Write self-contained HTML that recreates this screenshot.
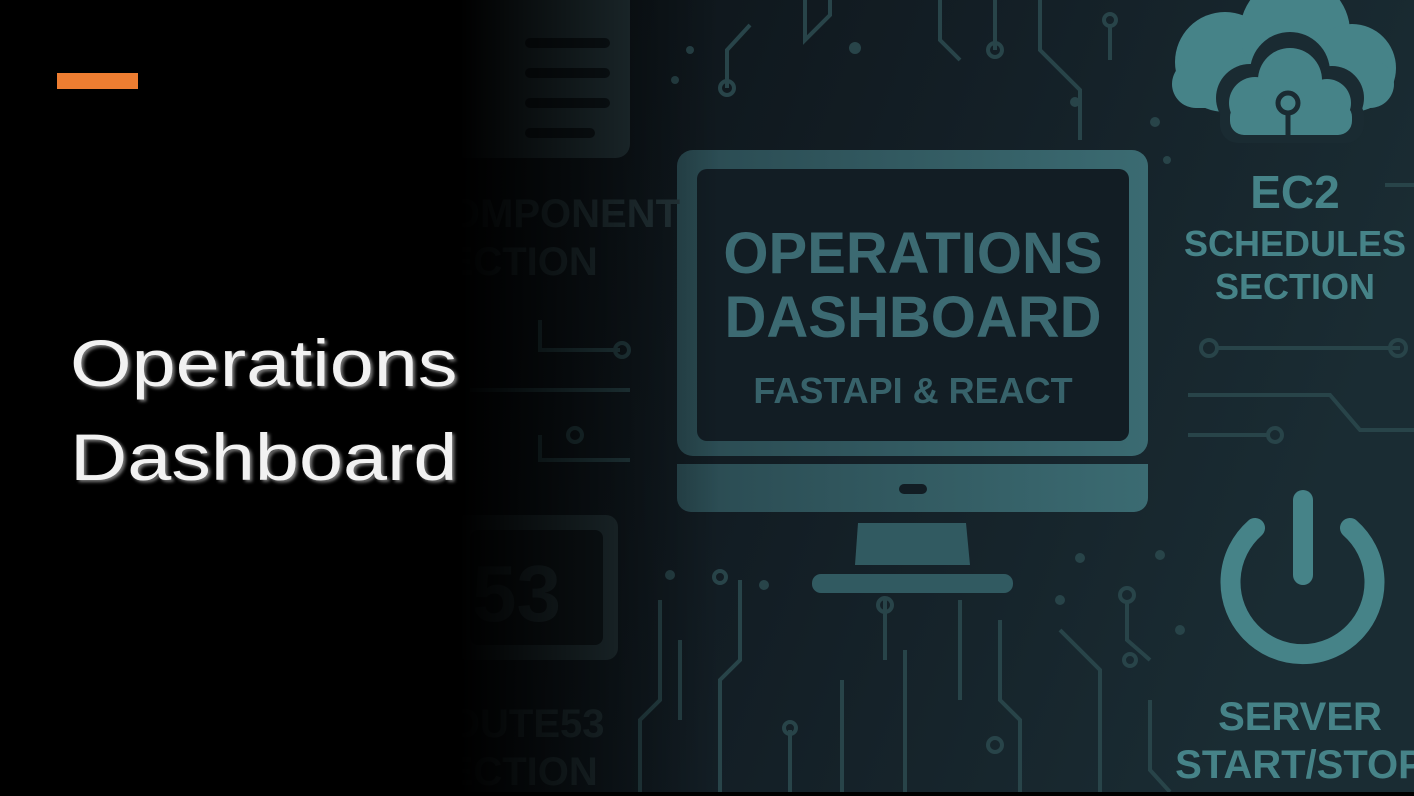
<!DOCTYPE html>
<html><head><style>
html,body{margin:0;padding:0}
body{width:1414px;height:792px;position:relative;overflow:hidden;background:#000;font-family:"Liberation Sans",sans-serif}
.t{position:absolute;font-weight:bold;text-align:center;white-space:nowrap}
</style></head><body>
<svg width="1414" height="792" style="position:absolute;left:0;top:0">
<defs>
<linearGradient id="bg" x1="0" y1="0" x2="1" y2="0.3">
<stop offset="0" stop-color="#0c1216"/><stop offset="0.5" stop-color="#131e25"/><stop offset="1" stop-color="#1a2c33"/>
</linearGradient>
<linearGradient id="mon" x1="0" y1="0" x2="1" y2="0">
<stop offset="0" stop-color="#2a4a51"/><stop offset="1" stop-color="#3b6b72"/>
</linearGradient>
</defs>
<rect x="460" y="0" width="954" height="792" fill="url(#bg)"/>
<g fill="none" stroke="#284449" stroke-width="4">
<path d="M805 0 V40 L830 15 V0"/><path d="M995 0 V50"/><circle cx="995" cy="50" r="7"/>
<path d="M1040 0 V50 L1080 90 V140"/><circle cx="1110" cy="20" r="6"/><path d="M1110 26 V60"/>
<path d="M940 0 V40 L960 60"/><path d="M727 88 V50 L750 25"/><circle cx="727" cy="88" r="7"/>
<path d="M1385 185 H1414"/><path d="M1215 348 H1400"/><circle cx="1209" cy="348" r="8"/><circle cx="1398" cy="348" r="8"/>
<path d="M1188 395 H1330 L1360 430 H1414"/><path d="M1188 435 H1268"/><circle cx="1275" cy="435" r="7"/>
<path d="M720 800 V680 L740 660 V580"/><circle cx="720" cy="577" r="6"/>
<path d="M790 800 V730"/><circle cx="790" cy="728" r="6"/><path d="M842 792 V680"/>
<path d="M885 600 V660"/><circle cx="885" cy="605" r="7"/><path d="M905 650 V792"/>
<path d="M960 600 V700"/><path d="M1000 620 V700 L1020 720 V792"/><circle cx="995" cy="745" r="7"/>
<path d="M1060 630 L1100 670 V792"/><path d="M1127 600 V640 L1150 660"/><circle cx="1127" cy="595" r="7"/>
<path d="M1150 700 V770 L1170 792"/><circle cx="1130" cy="660" r="6"/>
<path d="M540 320 V350 H620"/><circle cx="622" cy="350" r="7"/><path d="M470 390 H630"/><path d="M540 435 V460 H630"/><circle cx="575" cy="435" r="7"/>
<path d="M660 600 V700 L640 720 V792"/><path d="M680 640 V720"/>
</g>
<g fill="#284449">
<circle cx="855" cy="48" r="6"/><circle cx="1075" cy="102" r="5"/><circle cx="1155" cy="122" r="5"/><circle cx="1167" cy="160" r="4"/>
<circle cx="670" cy="575" r="5"/><circle cx="764" cy="585" r="5"/><circle cx="1080" cy="558" r="5"/><circle cx="1160" cy="555" r="5"/>
<circle cx="690" cy="50" r="4"/><circle cx="675" cy="80" r="4"/><circle cx="1060" cy="600" r="5"/><circle cx="1180" cy="630" r="5"/>
</g>
<rect x="450" y="-20" width="180" height="178" rx="14" fill="#26373c"/>
<g fill="#0f181c"><rect x="525" y="38" width="85" height="10" rx="5"/><rect x="525" y="68" width="85" height="10" rx="5"/><rect x="525" y="98" width="85" height="10" rx="5"/><rect x="525" y="128" width="70" height="10" rx="5"/></g>
<rect x="455" y="515" width="163" height="145" rx="12" fill="#26373c"/>
<rect x="470" y="530" width="133" height="115" rx="8" fill="#111a1e"/>
<rect x="677" y="150" width="471" height="306" rx="16" fill="url(#mon)"/>
<rect x="697" y="169" width="432" height="272" rx="10" fill="#121d24"/>
<rect x="677" y="464" width="471" height="48" rx="14" fill="url(#mon)"/>
<rect x="677" y="464" width="471" height="20" fill="url(#mon)"/>
<rect x="899" y="484" width="28" height="10" rx="5" fill="#121d24"/>
<path d="M858 523 H966 L970 565 H855 Z" fill="#315a61"/>
<rect x="812" y="574" width="201" height="19" rx="9" fill="#315a61"/>
<g fill="#468388">
<circle cx="1225" cy="62" r="50"/><circle cx="1295" cy="32" r="55"/><circle cx="1352" cy="68" r="44"/><rect x="1172" y="60" width="222" height="48" rx="24"/>
</g>
<g fill="#1a2b32"><circle cx="1250" cy="98" r="34"/><circle cx="1290" cy="72" r="40"/><circle cx="1332" cy="98" r="32"/><rect x="1220" y="98" width="144" height="45" rx="18"/></g>
<g fill="#468388"><circle cx="1255" cy="103" r="26"/><circle cx="1290" cy="80" r="32"/><circle cx="1327" cy="103" r="24"/><rect x="1230" y="103" width="122" height="32" rx="14"/></g>
<circle cx="1288" cy="103" r="10" fill="none" stroke="#1a2b32" stroke-width="5"/><path d="M1288 113 V135" stroke="#1a2b32" stroke-width="5"/>
<path d="M1255 528 A72 72 0 1 0 1350 528" fill="none" stroke="#468388" stroke-width="20" stroke-linecap="round"/>
<rect x="1293" y="490" width="20" height="95" rx="10" fill="#468388"/>
</svg>
<div class="t" style="left:697px;top:222px;width:432px;font-size:58px;line-height:64px;color:#3c6a72">OPERATIONS<br>DASHBOARD</div>
<div class="t" style="left:697px;top:370px;width:432px;font-size:36px;color:#37626a">FASTAPI &amp; REACT</div>
<div class="t" style="left:1180px;top:165px;width:230px;font-size:46px;color:#468388">EC2</div>
<div class="t" style="left:1180px;top:222px;width:230px;font-size:36px;line-height:43px;color:#468388">SCHEDULES<br>SECTION</div>
<div class="t" style="left:1170px;top:693px;width:260px;font-size:40px;line-height:48px;color:#468388">SERVER<br>START/STOP</div>
<div class="t" style="left:420px;top:190px;font-size:40px;line-height:48px;color:#26373c;text-align:left">COMPONENT<br>SECTION</div>
<div class="t" style="left:472px;top:548px;font-size:80px;color:#26373c">53</div>
<div class="t" style="left:420px;top:700px;font-size:40px;line-height:48px;color:#26373c;text-align:left">ROUTE53<br>SECTION</div>
<div style="position:absolute;left:0;top:0;width:460px;height:792px;background:#000"></div>
<div style="position:absolute;left:460px;top:0;width:260px;height:792px;background:linear-gradient(to right,#000 0%,rgba(0,0,0,0.75) 25%,rgba(0,0,0,0.3) 70%,rgba(0,0,0,0) 100%)"></div>
<div style="position:absolute;left:57px;top:73px;width:81px;height:16px;background:#ed7d31"></div>
<div style="position:absolute;left:70px;top:316px;font-size:66px;line-height:94px;color:#f2f2f2;text-shadow:2px 2px 3px #777;transform:scaleX(1.2);transform-origin:0 0">Operations<br>Dashboard</div>
</body></html>
